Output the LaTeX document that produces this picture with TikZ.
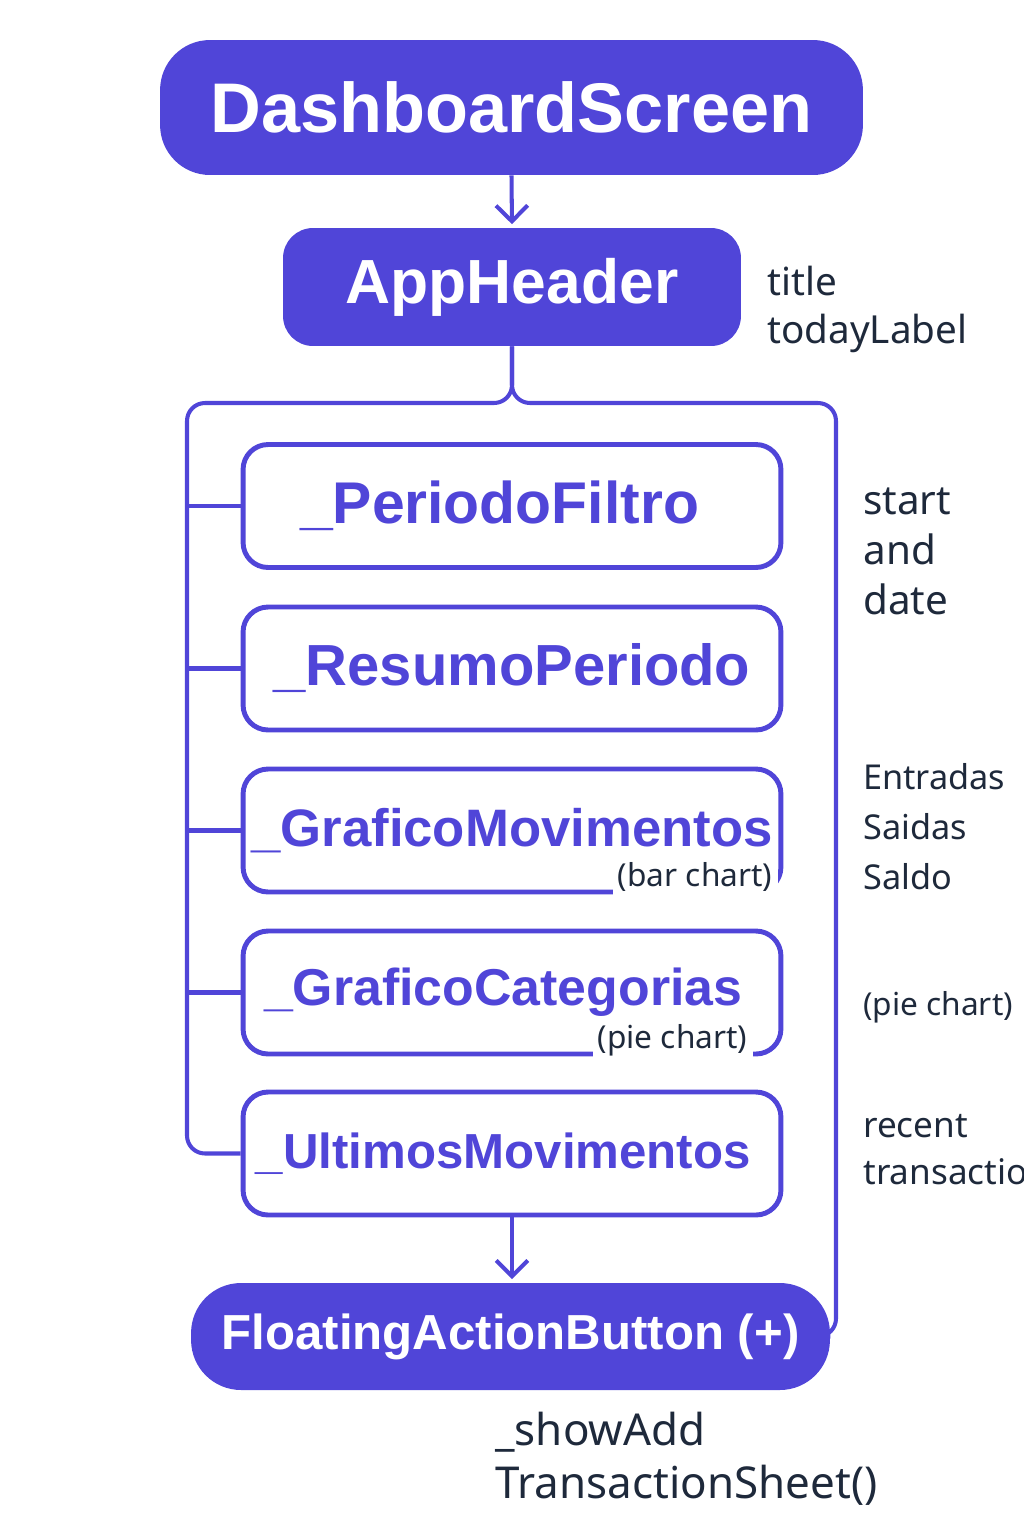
\documentclass[tikz,border=0pt]{standalone}
\usepackage{fontspec}
\setmainfont{Noto Sans}
\newfontfamily\headfont{Liberation Sans}
\usetikzlibrary{arrows.meta}

\definecolor{indigo}{RGB}{80,69,216}
\definecolor{ink}{RGB}{30,41,59}

\tikzset{
    headbox/.style={rectangle, fill=indigo, text=white, inner sep=0pt},
    partbox/.style={rectangle, draw=indigo, line width=2.8pt, fill=white, text=indigo,
        rounded corners=0.5cm, minimum width=10.76cm, minimum height=2.46cm, inner sep=0pt,
        font=\headfont\bfseries\fontsize{#1}{#1}\selectfont},
    note/.style={text=ink, align=left, anchor=base west, inner sep=0pt},
    chartnote/.style={text=ink, fill=white, inner xsep=3pt, inner ysep=3pt, anchor=base east,
        font=\fontsize{18}{22}\selectfont},
    wire/.style={draw=indigo, line width=2.3pt},
    arr/.style={-{Straight Barb[length=9pt,width=18pt,line width=2.3pt]}}
}

\begin{document}
\begin{tikzpicture}[x=0.02cm, y=-0.02cm]
    \useasboundingbox (0,0) rectangle (1024,1536);
    \clip (0,0) rectangle (1024,1536);

    \node [headbox, rounded corners=1cm, minimum width=14.06cm, minimum height=2.7cm,
        font=\headfont\bfseries\fontsize{40}{48}\selectfont] (dash) at (511.5,107.5) {DashboardScreen};
    \node [headbox, rounded corners=0.6cm, minimum width=9.16cm, minimum height=2.36cm,
        font=\headfont\bfseries\fontsize{35.5}{40}\selectfont] (hdr) at (512,287) {AppHeader};

    \node [partbox=33.5] (per1) at (512,506) {\_PeriodoFiltro\kern0.5cm};
    \node [partbox=33] (per2) at (512,668.5) {\_ResumoPeriodo};
    \node [partbox=30] (per3) at (512,830.5) {\_GraficoMovimentos};
    \node [partbox=29.5] (per4) at (512,992.5) {\_GraficoCategorias\kern0.35cm};
    \node [partbox=28] (per5) at (512,1153.5) {\_UltimosMovimentos\kern0.35cm};

    \node [headbox, rounded corners=1cm, minimum width=12.78cm, minimum height=2.14cm,
        font=\headfont\bfseries\fontsize{28}{32}\selectfont] (fab) at (510.5,1336.5) {FloatingActionButton (+)};

    % chart hints sit on the lower border of the two chart boxes
    \node [chartnote] (barlbl) at (778,886) {(bar chart)};
    \node [chartnote] (pielbl) at (753,1048) {(pie chart)};

    % side notes (anchored at the last baseline)
    \node [note, font=\fontsize{22}{27}\selectfont] (hdrnote) at (767,343) {title\\todayLabel};
    \node [note, font=\fontsize{23}{28.4}\selectfont] (fltnote) at (863,614) {start\\and\\date};
    \node [note, font=\fontsize{19.5}{28.4}\selectfont] (grfnote) at (863,889) {Entradas\\Saidas\\Saldo};
    \node [note, font=\fontsize{18}{28}\selectfont] (catnote) at (863,1015) {(pie chart)};
    \node [note, font=\fontsize{20}{26.5}\selectfont] (ultnote) at (863,1184) {recent\\transactions};
    \node [note, font=\fontsize{25}{30}\selectfont] (fabnote) at (495,1498) {\_showAdd\\TransactionSheet()};

    % rails
    \coordinate (railL) at (187,403);
    \coordinate (railR) at (836,403);
    \draw [wire, rounded corners=0.36cm] (hdr.south) -- (hdr.south |- railL) -- (railL)
        -- (railL |- per5.west) -- (per5.west);
    \draw [wire, rounded corners=0.36cm] (hdr.south) -- (hdr.south |- railR) -- (railR)
        -- (railR |- fab.east) -- (fab.east);
    \foreach \p in {per1,per2,per3,per4}
        \draw [wire] (railL |- \p.west) -- (\p.west);

    \draw [wire, arr, shorten >=2pt] (dash.south) -- (hdr.north);
    \draw [wire, arr, shorten >=2pt] (per5.south) -- (per5.south |- fab.north);
\end{tikzpicture}
\end{document}
